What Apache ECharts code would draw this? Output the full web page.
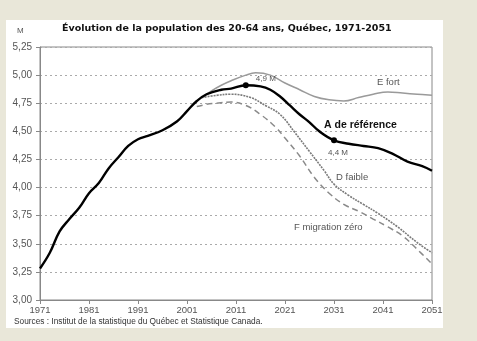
<!DOCTYPE html>
<html>
<head>
<meta charset="utf-8">
<script src="https://cdn.jsdelivr.net/npm/echarts@6/dist/echarts.min.js"></script>
<style>
html,body{margin:0;padding:0;background:#e9e7d9;}
#c{width:477px;height:341px;}
</style>
</head>
<body>
<div id="c"></div>
<script>
const BASE_YEAR = 1971;
const xTickYears = [1971,1981,1991,2001,2011,2021,2031,2041,2051];
const yTicks = [3.00,3.25,3.50,3.75,4.00,4.25,4.50,4.75,5.00,5.25];

const aYears  = [1971,1973,1975,1977,1979,1981,1983,1985,1987,1989,1991,1993,1996,1999,2001,2003,2005,2008,2010,2013,2016,2018,2020,2022,2024,2026,2028,2031,2034,2037,2040,2043,2046,2049,2051];
const aValues = [3.28,3.42,3.61,3.72,3.82,3.95,4.04,4.17,4.27,4.37,4.43,4.46,4.51,4.59,4.68,4.77,4.83,4.87,4.88,4.91,4.90,4.87,4.81,4.73,4.65,4.58,4.50,4.42,4.39,4.37,4.35,4.30,4.23,4.19,4.15];

const eYears  = [2004,2006,2008,2010,2013,2015,2018,2021,2024,2027,2030,2033,2036,2039,2042,2045,2048,2051];
const eValues = [4.80,4.86,4.91,4.95,5.00,5.02,5.00,4.93,4.87,4.81,4.78,4.77,4.80,4.83,4.85,4.84,4.83,4.82];

const dYears  = [2004,2007,2010,2014,2017,2020,2023,2026,2029,2031,2034,2037,2040,2044,2048,2051];
const dValues = [4.80,4.82,4.83,4.80,4.73,4.65,4.49,4.32,4.15,4.03,3.93,3.85,3.77,3.65,3.51,3.42];

const fYears  = [2003,2005,2007,2010,2013,2016,2019,2021,2024,2027,2030,2033,2036,2039,2042,2045,2048,2051];
const fValues = [4.72,4.74,4.75,4.76,4.73,4.65,4.54,4.44,4.28,4.09,3.95,3.85,3.79,3.72,3.65,3.57,3.45,3.32];

const peakPoint = {year: 2013, value: 4.91, label: '4,9 M'};
const p2031Point = {year: 2031, value: 4.42, label: '4,4 M'};

const titleText = 'Évolution de la population des 20-64 ans, Québec, 1971-2051';
const sourceText = 'Sources : Institut de la statistique du Québec et Statistique Canada.';
const unitText = 'M';

function pairs(ys, vs){ return ys.map((y,i)=>[y-BASE_YEAR, vs[i]]); }
const FONT = '"Liberation Sans", Arial, sans-serif';

const chart = echarts.init(document.getElementById('c'), null, {renderer:'canvas'});
chart.setOption({
  animation:false,
  backgroundColor:'#e9e7d9',
  graphic:[
    {type:'rect', z:-10, shape:{x:6,y:20,width:437,height:308}, style:{fill:'#ffffff'}},
    {type:'text', left:62, top:24, style:{text:titleText, font:'bold 9.5px "DejaVu Sans", Verdana, sans-serif', fill:'#111'}},
    {type:'text', left:17, top:27, style:{text:unitText, font:'8px '+FONT, fill:'#555'}},
    {type:'text', left:14, top:318, style:{text:sourceText, font:'8.3px '+FONT, fill:'#333'}},
    {type:'text', left:377, top:77, style:{text:'E fort', font:'9.5px '+FONT, fill:'#555'}},
    {type:'text', left:324, top:120, style:{text:'A de référence', font:'bold 10.5px '+FONT, fill:'#111'}},
    {type:'text', left:336, top:172, style:{text:'D faible', font:'9.5px '+FONT, fill:'#555'}},
    {type:'text', left:294, top:222, style:{text:'F migration zéro', font:'9.5px '+FONT, fill:'#555'}}
  ],
  grid:{left:40, right:45, top:47, bottom:41, show:true, borderColor:'#888', borderWidth:1},
  xAxis:{
    type:'value', min:0, max:80, interval:10,
    axisLine:{lineStyle:{color:'#888'}},
    axisTick:{show:true, length:4, lineStyle:{color:'#888'}},
    axisLabel:{color:'#555', fontSize:9.5, fontFamily:FONT, margin:5,
      formatter:(v)=> String(xTickYears[Math.round(v/10)])},
    splitLine:{show:false}
  },
  yAxis:{
    type:'value', min:yTicks[0], max:yTicks[yTicks.length-1], interval:0.25,
    axisLine:{show:true, lineStyle:{color:'#888'}},
    axisTick:{show:true, length:4, lineStyle:{color:'#888'}},
    axisLabel:{color:'#555', fontSize:10, fontFamily:FONT, margin:8,
      formatter:(v)=> v.toFixed(2).replace('.', ',')},
    splitLine:{show:true, lineStyle:{color:'#aaa', type:[2,3], width:1}}
  },
  series:[
    {name:'E fort', type:'line', smooth:0.4, showSymbol:false, data:pairs(eYears,eValues),
      lineStyle:{color:'#9a9a9a', width:1.5}, z:2},
    {name:'F migration zéro', type:'line', smooth:0.4, showSymbol:false, data:pairs(fYears,fValues),
      lineStyle:{color:'#8a8a8a', width:1.5, type:[6,4]}, z:2},
    {name:'D faible', type:'line', smooth:0.4, showSymbol:false, data:pairs(dYears,dValues),
      lineStyle:{color:'#7a7a7a', width:1.6, type:[2,1]}, z:2},
    {name:'A de référence', type:'line', smooth:0.4, showSymbol:false, data:pairs(aYears,aValues),
      lineStyle:{color:'#000', width:2.4}, z:3,
      markPoint:{
        symbol:'circle', symbolSize:6, itemStyle:{color:'#000'},
        data:[
          {coord:[peakPoint.year-BASE_YEAR, peakPoint.value], value:peakPoint.label,
            label:{show:true, position:'right', offset:[2,-6], formatter:peakPoint.label, color:'#555', fontSize:8, fontFamily:FONT}},
          {coord:[p2031Point.year-BASE_YEAR, p2031Point.value], value:p2031Point.label,
            label:{show:true, position:'bottom', offset:[4,0], formatter:p2031Point.label, color:'#555', fontSize:8, fontFamily:FONT}}
        ]
      }
    }
  ]
});
</script>
</body>
</html>
